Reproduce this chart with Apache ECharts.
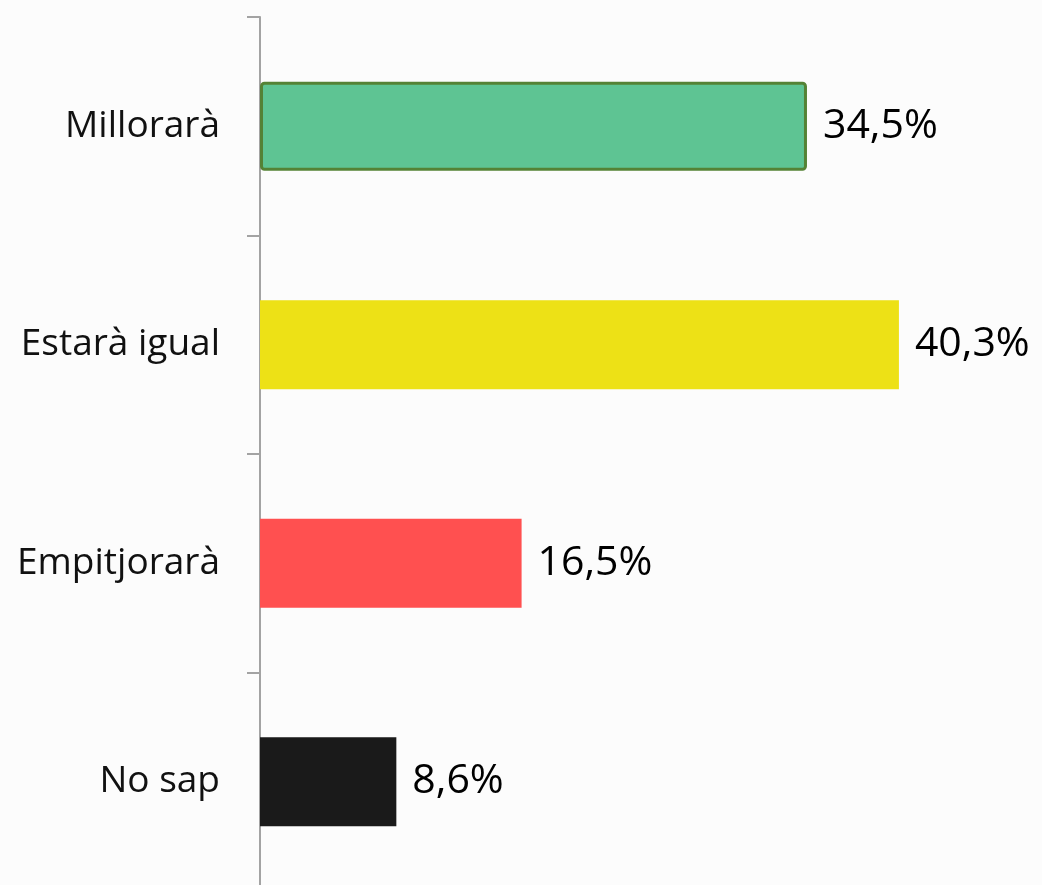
<!DOCTYPE html>
<html>
<head>
<meta charset="utf-8">
<script src="https://cdn.jsdelivr.net/npm/echarts@6/dist/echarts.min.js"></script>
<style>
  html, body { margin: 0; padding: 0; background: #fcfcfc; overflow: hidden; }
  #main { width: 1042px; height: 892px; }
</style>
</head>
<body>
<div id="main"></div>
<script>
// answers and share of respondents (%)
var categories = ['Millorarà', 'Estarà igual', 'Empitjorarà', 'No sap'];
var values = [34.5, 40.3, 16.5, 8.6];
var barColors = ['#5EC493', '#EDE116', '#FF5050', '#1A1A1A'];

var myChart = echarts.init(document.getElementById('main'));

// the last category band runs a little past the bottom edge of the picture
var option = {
    backgroundColor: '#fcfcfc',
    grid: { left: 260, top: 17, width: 761, height: 874 },
    xAxis: {
        type: 'value',
        min: 0,
        max: 48,
        show: false
    },
    yAxis: {
        type: 'category',
        inverse: true,
        data: categories,
        axisLine: { lineStyle: { color: '#a3a3a3', width: 2 } },
        axisTick: { show: true, length: 13, lineStyle: { color: '#a3a3a3', width: 2 } },
        axisLabel: {
            margin: 40,
            color: '#111',
            fontFamily: 'Open Sans',
            fontSize: 37
        },
        splitLine: { show: false }
    },
    series: [{
        type: 'bar',
        barWidth: 89,
        data: values.map(function (v, i) {
            var item = { value: v, itemStyle: { color: barColors[i] } };
            if (i === 0) {
                item.itemStyle.borderColor = '#548235';
                item.itemStyle.borderWidth = 3;
                item.itemStyle.borderRadius = 3;
            }
            return item;
        }),
        label: {
            show: true,
            position: 'right',
            distance: 16,
            color: '#000',
            fontFamily: 'Open Sans',
            fontSize: 41,
            formatter: function (p) {
                return p.value.toFixed(1).replace('.', ',') + '%';
            }
        },
        animation: false
    }]
};

myChart.setOption(option);
</script>
</body>
</html>
